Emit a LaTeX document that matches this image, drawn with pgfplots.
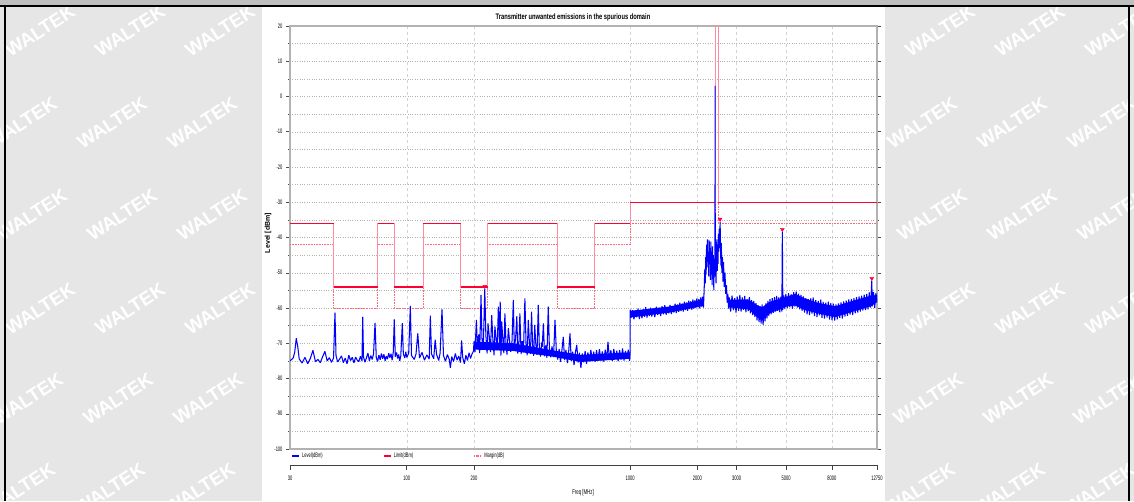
\documentclass[border=0pt]{standalone}
\usepackage{pgfplots}
\pgfplotsset{compat=1.18}
\usepackage{fontspec}
\setmainfont{Liberation Sans}
\newfontfamily\nf{Liberation Sans}[FakeStretch=0.62]
\newfontfamily\tf{Liberation Sans}[FakeStretch=0.72]
\definecolor{bggray}{HTML}{E6E6E6}
\definecolor{topgray}{HTML}{BFBFBF}
\definecolor{lvl}{HTML}{0000FF}
\definecolor{lim}{HTML}{FF0033}
\definecolor{mrg}{HTML}{FF6680}

% measured level trace, MHz / dBm
\pgfplotstableread{
f v
30 -75.0
31 -74.2
31.5 -72.5
32 -68.6
32.5 -71.0
33 -74.5
34 -75.6
35 -74.0
36 -75.8
37 -74.3
38 -72.0
39 -75.2
40 -74.6
41 -75.5
42 -73.8
43 -72.3
44 -75.0
45 -74.1
46 -75.4
47 -74.2
47.7 -61.3
48.2 -73.5
49 -75.3
50 -74.5
51 -73.6
52 -75.5
53 -74.2
54 -75.8
55 -73.4
56 -74.9
57 -74.0
58 -75.6
59 -73.9
60 -74.8
61 -75.2
62 -73.7
63 -75.0
63.5 -62.5
64 -73.9
65 -75.4
66 -74.1
67 -72.8
68 -75.0
69 -73.5
70 -74.6
71 -73.0
72.1 -64.2
73 -74.0
74 -75.2
75 -73.3
76 -74.7
77 -72.9
78 -74.4
79 -73.1
80 -75.0
81 -73.6
82 -74.5
83 -72.8
84 -74.1
85 -73.0
86 -74.8
87 -72.5
87.9 -63.2
88.8 -73.8
90 -72.6
91 -74.3
92 -73.2
93 -75.0
94 -73.6
95.5 -64.3
96.5 -73.0
98 -74.2
99 -72.4
100 -74.0
102 -72.8
103.7 -59.4
105 -73.5
108 -74.6
110 -73.0
112 -67.2
114 -74.2
117 -72.6
120 -74.8
123 -73.3
126 -74.5
127.5 -62.2
129 -73.0
132 -74.4
134 -69.0
136 -73.2
139 -74.9
141 -72.8
143.8 -60.4
146 -73.5
149 -75.1
152 -73.2
155 -74.6
156.7 -77.0
159 -73.8
162 -75.2
165 -72.9
168 -74.8
171 -73.6
174 -75.5
176 -69.2
178 -74.0
181 -75.8
184 -73.4
187 -74.9
190 -72.7
193 -74.3
196 -73.0
199 -72.2
200 -69.5
202 -72.5
205 -63.4
207 -71.0
210 -67.5
212 -72.8
215 -56.3
217 -68.5
220 -71.5
223.5 -54.6
226 -67.8
229 -72.9
231 -64.4
234 -68.0
237 -72.5
240 -62.0
243 -69.2
246 -73.4
248 -65.2
251 -68.4
254 -72.0
257 -59.6
260 -70.0
262 -58.2
264 -73.5
266 -63.8
269 -68.6
272 -72.8
275 -61.5
278 -69.8
281 -73.2
285 -65.7
288 -68.9
292 -72.4
296 -69.3
300 -57.7
303 -71.5
307 -68.7
311 -62.3
314 -72.9
318 -69.6
321 -61.5
325 -73.1
329 -69.4
333 -72.6
338 -57.3
342 -70.2
346 -73.4
350 -63.4
354 -69.7
358 -73.0
362 -61.0
366 -70.4
370 -73.6
374 -64.8
378 -70.0
383 -73.3
388 -59.1
392 -70.6
397 -73.8
402 -69.8
404 -71.0
409 -64.4
414 -73.7
419 -70.6
424 -74.2
430 -59.6
435 -71.3
441 -74.0
447 -70.9
454 -73.9
461 -63.4
467 -71.8
474 -74.6
481 -71.6
488 -75.3
495 -72.0
502 -68.2
509 -74.8
516 -71.9
524 -75.6
531 -72.2
538 -67.2
545 -75.0
553 -72.4
561 -76.2
569 -72.5
577 -70.5
585 -75.5
593 -72.7
602 -77.0
611 -72.9
620 -75.4
629 -72.2
638 -75.8
647 -72.6
657 -75.1
667 -71.9
677 -74.8
687 -72.4
697 -75.3
707 -72.0
718 -74.6
729 -71.7
740 -74.9
751 -72.3
762 -75.2
774 -71.8
786 -74.7
796 -69.6
808 -74.5
820 -72.0
832 -75.0
845 -71.6
858 -74.4
871 -72.1
884 -75.1
897 -71.9
911 -74.6
925 -71.5
939 -74.9
953 -72.2
967 -74.3
981 -71.8
995 -75.0
999.5 -73.0
1000 -63.5
1000.5 -60.5
1010 -62.8
1025 -60.6
1040 -63.2
1055 -61.0
1070 -62.6
1085 -60.2
1100 -63.1
1115 -60.8
1130 -62.9
1145 -60.4
1160 -62.5
1175 -59.8
1190 -62.7
1205 -60.5
1220 -62.3
1235 -59.9
1250 -62.4
1270 -60.1
1290 -62.6
1310 -59.6
1330 -62.0
1350 -59.9
1370 -62.3
1390 -59.5
1410 -61.8
1430 -59.2
1450 -61.9
1470 -59.7
1490 -61.5
1510 -59.1
1530 -61.7
1550 -59.4
1570 -61.3
1590 -58.8
1610 -61.4
1630 -59.0
1650 -61.1
1670 -58.5
1690 -60.9
1710 -58.7
1730 -61.0
1750 -58.2
1770 -60.6
1790 -58.4
1810 -60.8
1830 -57.9
1850 -60.3
1870 -58.1
1890 -60.5
1910 -57.6
1930 -60.2
1950 -57.8
1970 -60.0
1990 -57.3
2010 -59.8
2030 -57.5
2050 -60.1
2070 -57.0
2090 -59.6
2110 -56.8
2130 -59.9
2145 -55.0
2160 -49.0
2170 -53.0
2180 -45.5
2190 -50.5
2200 -42.0
2210 -48.5
2220 -40.5
2230 -47.0
2240 -44.0
2250 -51.0
2260 -40.8
2270 -47.5
2280 -43.0
2290 -52.0
2300 -41.2
2310 -49.0
2320 -44.5
2330 -53.5
2340 -42.5
2350 -50.0
2360 -45.0
2370 -55.0
2380 -46.0
2390 -51.0
2398 -48.0
2402 3.0
2406 -50.0
2415 -44.0
2425 -53.0
2435 -46.0
2445 -40.5
2455 -49.5
2465 -42.0
2475 -47.5
2485 -39.0
2495 -44.0
2505 -37.5
2515 -43.0
2529 -35.5
2540 -42.5
2550 -48.0
2560 -41.5
2575 -50.0
2590 -45.5
2605 -52.5
2620 -47.0
2640 -54.0
2660 -50.0
2680 -56.0
2700 -53.5
2720 -58.5
2740 -56.0
2760 -60.2
2780 -57.0
2820 -61.0
2860 -56.5
2900 -60.6
2940 -57.2
2980 -61.3
3020 -56.8
3060 -60.8
3100 -56.3
3140 -61.0
3180 -57.0
3220 -60.5
3260 -56.6
3300 -61.2
3340 -57.4
3380 -60.9
3420 -56.9
3460 -61.5
3500 -57.8
3540 -62.0
3580 -58.0
3620 -62.6
3660 -58.6
3700 -63.5
3740 -59.2
3780 -64.0
3820 -59.5
3860 -64.4
3900 -59.0
3940 -64.8
3980 -59.8
4020 -63.8
4060 -58.7
4100 -62.9
4140 -58.0
4180 -62.3
4230 -57.5
4280 -61.8
4330 -57.2
4380 -61.4
4430 -56.9
4480 -61.0
4530 -56.6
4580 -60.8
4630 -57.0
4680 -61.2
4730 -56.8
4780 -61.0
4804 -38.4
4830 -60.5
4880 -56.4
4930 -60.3
4980 -56.0
5050 -60.0
5120 -55.8
5190 -59.8
5260 -56.1
5330 -60.2
5400 -55.5
5470 -59.6
5540 -55.3
5610 -59.9
5680 -55.9
5750 -60.4
5820 -56.3
5890 -60.8
5960 -56.7
6040 -61.3
6120 -57.2
6200 -61.8
6280 -57.5
6360 -62.0
6440 -57.3
6520 -61.6
6600 -57.0
6690 -62.3
6780 -57.8
6870 -62.6
6960 -58.0
7050 -62.1
7140 -57.6
7230 -62.8
7320 -58.3
7420 -63.0
7520 -58.5
7620 -62.7
7720 -58.2
7820 -63.3
7920 -58.6
8020 -63.5
8130 -58.8
8240 -63.6
8350 -59.0
8460 -63.2
8570 -58.7
8680 -62.8
8800 -58.4
8920 -63.0
9040 -58.1
9160 -62.4
9280 -57.9
9400 -62.2
9530 -57.6
9660 -61.9
9790 -57.4
9920 -62.0
10050 -57.2
10180 -61.5
10320 -56.9
10460 -61.3
10600 -56.7
10740 -61.0
10880 -56.5
11020 -60.7
11170 -56.2
11320 -60.6
11470 -56.0
11620 -60.4
11770 -55.6
11920 -59.9
12081 -52.3
12150 -59.5
12300 -55.5
12450 -60.0
12600 -55.8
12750 -58.5
}\leveldata

% dense core of the noise band, upper edge then lower edge back
\pgfplotstableread{
f v
200 -69.5
300 -70.0
450 -72.0
600 -73.3
1000 -72.6
1000 -74.4
600 -75.3
450 -73.8
300 -72.2
200 -71.8
}\bandlow

\pgfplotstableread{
f v
1000 -60.8
1500 -59.6
2000 -58.0
2140 -57.4
2140 -59.4
2000 -59.7
1500 -61.3
1000 -62.7
}\bandmid

\pgfplotstableread{
f v
2760 -57.6
3400 -57.6
3700 -59.2
3900 -59.8
4200 -58.3
5000 -56.8
5500 -56.0
6000 -57.2
7000 -58.6
8300 -59.5
10000 -57.9
12000 -56.5
12750 -56.3
12750 -58.3
12000 -59.5
10000 -61.0
8300 -62.6
7000 -61.6
6000 -60.5
5500 -59.3
5000 -59.6
4200 -61.6
3900 -63.6
3700 -62.6
3400 -60.4
2760 -59.8
}\bandhigh

\pgfplotstableread{
f v
30 -36
47 -36
47 -54
74 -54
74 -36
87.5 -36
87.5 -54
118 -54
118 -36
174 -36
174 -54
230 -54
230 -36
470 -36
470 -54
694 -54
694 -36
1000 -36
1000 -30
2400 -30
2400 30
2483.5 30
2483.5 -30
12750 -30
}\limitdata

\pgfplotstableread{
f v
30 -36
47 -36
47 nan
47 -54
74 -54
74 nan
74 -36
87.5 -36
87.5 nan
87.5 -54
118 -54
118 nan
118 -36
174 -36
174 nan
174 -54
230 -54
230 nan
230 -36
470 -36
470 nan
470 -54
694 -54
694 nan
694 -36
1000 -36
1000 nan
1000 -30
2400 -30
2400 nan
2483.5 -30
12750 -30
}\limitflat

\pgfplotstableread{
f v
30 -42
47 -42
47 -60
74 -60
74 -42
87.5 -42
87.5 -60
118 -60
118 -42
174 -42
174 -60
230 -60
230 -42
470 -42
470 -60
694 -60
694 -42
1000 -42
1000 -36
2400 -36
2400 30
2483.5 30
2483.5 -36
12750 -36
}\margindata

\begin{document}
\begin{tikzpicture}
\useasboundingbox (0pt,0pt) rectangle (1134pt,501pt);
% page background, watermark, table borders
\fill[bggray] (0pt,0pt) rectangle (1134pt,501pt);
\fill[topgray] (0pt,495pt) rectangle (1134pt,501pt);
\begin{scope}
\clip (0pt,0pt) rectangle (1134pt,494pt);
\foreach \yy/\off in {470/0, 378/-18, 286/-8, 192/0, 102/-12, 12/-20} {
  \foreach \c in {0,...,12} {
    \pgfmathsetmacro\xx{40+90*\c+\off}
    \pgfmathparse{(\xx<265 || \xx>880) ? 1 : 0}
    \ifdim\pgfmathresult pt>0.5pt
      \node[white, rotate=33, font=\fontsize{19}{19}\selectfont\bfseries, inner sep=0pt] at (\xx pt,\yy pt) {WALTEK};
    \fi
  }
}
\end{scope}
\fill[white] (262pt,0pt) rectangle (885pt,494pt);
\draw[black, line width=2pt] (0pt,495pt) -- (1134pt,495pt);
\draw[black, line width=2pt] (5pt,0pt) -- (5pt,495pt);
\draw[black, line width=2pt] (1129pt,0pt) -- (1129pt,495pt);

\node[font=\fontsize{8}{9}\tf\bfseries] at (573pt,484pt) {Transmitter unwanted emissions in the spurious domain};
\node[rotate=90, font=\fontsize{7}{8}\selectfont\bfseries] at (268pt,268pt) {Level [dBm]};
\node[font=\fontsize{7}{8}\nf] at (583pt,8pt) {Freq [MHz]};

\begin{axis}[
  at={(290pt,52pt)}, anchor=south west,
  scale only axis, width=587pt, height=423pt,
  xmode=log, xmin=30, xmax=12750, ymin=-100, ymax=20,
  xtick={100,200,1000,2000,3000,5000,8000}, xticklabels={},
  xminorticks=false, x tick style={draw=none},
  ytick={-100,-90,...,20},
  yticklabels={-100,-90,-80,-70,-60,-50,-40,-30,-20,-10,0,10,20},
  minor ytick={-95,-85,...,15},
  tick align=outside, major tick length=4pt, minor tick length=2pt,
  y tick style={gray!60!black, line width=0.5pt},
  yticklabel style={font=\fontsize{6.5}{7}\nf},
  xmajorgrids, ymajorgrids, yminorgrids,
  major x grid style={dashed, gray!35},
  major y grid style={dotted, gray!60},
  minor y grid style={dotted, gray!60},
  axis line style={gray!55, line width=0.8pt},
  y axis line style={gray!60, line width=1.6pt},
  unbounded coords=jump,
  legend columns=3, legend cell align=left,
  legend image code/.code={\draw[#1, line width=2pt] (0pt,0pt) -- (7pt,0pt);},
  legend style={at={(0,0)}, anchor=north west, xshift=1pt, yshift=-2pt,
    draw=none, fill=none, inner sep=0pt, font=\fontsize{6.5}{7}\nf,
    /tikz/every even column/.append style={column sep=58pt}},
]
\addlegendimage{lvl}\addlegendentry{Level(dBm)}
\addlegendimage{lim}\addlegendentry{Limit(dBm)}
\addlegendimage{mrg, densely dotted}\addlegendentry{Margin(dB)}

\addplot[forget plot, mrg, densely dotted, line width=0.6pt] table[x=f, y=v] {\margindata};
\addplot[forget plot, lim!45, line width=0.6pt] table[x=f, y=v] {\limitdata};
\addplot[forget plot, lim, line width=1.3pt] table[x=f, y=v] {\limitflat};
\addplot[forget plot, draw=none, fill=lvl] table[x=f, y=v] {\bandlow};
\addplot[forget plot, draw=none, fill=lvl] table[x=f, y=v] {\bandmid};
\addplot[forget plot, draw=none, fill=lvl] table[x=f, y=v] {\bandhigh};
\addplot[forget plot, lvl, line width=1.05pt, line join=bevel] table[x=f, y=v] {\leveldata};
\addplot[forget plot, only marks, mark=triangle*, mark size=2.2pt,
  mark options={rotate=180, fill=lim, draw=lim}] coordinates {
  (223.5,-53.9) (2529,-34.8) (4804,-37.7) (12081,-51.6)
};
\end{axis}

% separate frequency axis below the legend
\begin{axis}[
  at={(290pt,36pt)}, anchor=south west,
  scale only axis, width=587pt, height=10pt,
  xmode=log, xmin=30, xmax=12750, ymin=0, ymax=1,
  axis x line=bottom, axis y line=none,
  x axis line style={-, black!75, line width=0.8pt},
  xtick={30,100,200,1000,2000,3000,5000,8000,12750},
  xticklabels={30,100,200,1000,2000,3000,5000,8000,12750},
  xminorticks=false, tick align=outside, major tick length=5pt,
  x tick style={black!75, line width=0.6pt},
  xticklabel style={font=\fontsize{6.5}{7}\nf, yshift=-2pt},
]
\addplot[draw=none, forget plot] coordinates {(30,0) (12750,1)};
\end{axis}
\end{tikzpicture}
\end{document}
